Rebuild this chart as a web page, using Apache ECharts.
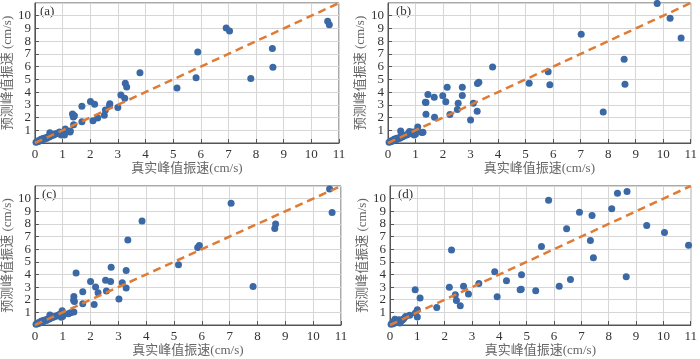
<!DOCTYPE html>
<html><head><meta charset="utf-8">
<script src="https://cdn.jsdelivr.net/npm/echarts@6/dist/echarts.min.js"></script>
<style>html,body{margin:0;padding:0;background:#fff}#c{width:700px;height:359px}</style>
</head><body><div id="c"></div>
<script>
const xName = '真实峰值振速(cm/s)';
const yName = '预测峰值振速 (cm/s)';
const panelLabels = ['(a)', '(b)', '(c)', '(d)'];
const ticks = [0,1,2,3,4,5,6,7,8,9,10,11];
const refLine = [[0,0],[11,11]];

const cluster = [[0.04,0.06],[0.08,0.1],[0.1,0.15],[0.13,0.12],[0.16,0.2],[0.2,0.22],[0.22,0.3],[0.25,0.26],[0.28,0.34],[0.3,0.28],[0.33,0.38],[0.36,0.33],[0.4,0.42],[0.43,0.38],[0.47,0.5],[0.52,0.47],[0.57,0.55],[0.62,0.6],[0.68,0.63],[0.72,0.7],[0.78,0.72],[0.85,0.8],[0.9,0.86],[0.95,0.62],[1.0,0.7]];

const dataA = cluster.concat([[0.54,0.8],[1.04,0.78],[1.1,1.1],[1.07,0.62],[1.27,0.86],[1.28,0.95],[1.4,1.44],[1.36,2.28],[1.39,2.05],[1.43,2.15],[1.7,2.88],[1.7,1.67],[2.01,3.27],[2.16,3.04],[2.1,1.75],[2.27,1.97],[2.51,2.18],[2.55,2.6],[2.71,3.08],[2.7,2.95],[3.0,2.78],[3.11,3.78],[3.25,3.52],[3.27,4.7],[3.32,4.4],[3.8,5.52],[5.14,4.32],[5.83,5.12],[5.89,7.15],[6.92,9.04],[7.04,8.8],[7.81,5.07],[8.59,7.43],[8.61,5.95],[10.59,9.57],[10.65,9.3]]);

const dataB = cluster.concat([[0.46,0.94],[0.78,0.9],[0.96,0.72],[1.02,0.9],[1.08,1.25],[1.23,0.83],[1.27,0.84],[1.36,3.2],[1.38,3.18],[1.38,2.25],[1.45,3.82],[1.68,3.6],[1.69,2.02],[1.99,3.72],[2.1,3.24],[2.15,4.38],[2.25,2.24],[2.52,2.64],[2.55,3.12],[2.7,4.38],[2.7,3.74],[3.0,1.8],[3.1,3.13],[3.24,2.5],[3.25,4.68],[3.3,4.78],[3.8,5.98],[5.13,4.69],[5.82,5.6],[5.88,4.57],[7.02,8.55],[7.82,2.43],[8.58,6.58],[8.61,4.62],[9.78,10.97],[10.25,9.8],[10.65,8.25]]);

const dataC = cluster.concat([[0.54,0.8],[0.98,1.12],[1.0,0.85],[1.2,0.9],[1.28,0.96],[1.4,1.02],[1.4,2.26],[1.39,1.95],[1.42,1.85],[1.48,4.12],[1.72,2.63],[1.72,1.68],[2.0,3.45],[2.18,3.0],[2.13,1.62],[2.27,2.55],[2.54,3.55],[2.57,2.7],[2.72,3.45],[2.74,4.58],[3.02,2.05],[3.14,3.35],[3.28,2.92],[3.28,4.32],[3.34,6.72],[3.85,8.24],[5.16,4.76],[5.85,6.13],[5.91,6.3],[7.05,9.63],[7.84,3.05],[8.62,7.63],[8.65,8.0],[10.59,10.76],[10.68,8.9]]);

const dataD = [[0.04,0.05],[0.08,0.15],[0.12,0.1],[0.15,0.3],[0.18,0.45],[0.22,0.2],[0.26,0.35],[0.3,0.25],[0.33,0.42],[0.36,0.15],[0.4,0.3],[0.45,0.4],[0.5,0.5],[0.57,0.68],[0.72,0.78],[0.93,0.95],[0.92,2.78],[1.0,1.21],[1.0,0.63],[1.1,2.14],[1.71,1.38],[2.17,2.98],[2.25,5.94],[2.39,2.39],[2.43,1.93],[2.57,1.52],[2.69,3.06],[2.87,2.46],[3.25,3.28],[3.83,4.21],[3.92,2.24],[4.26,3.5],[4.76,2.79],[4.8,2.82],[4.81,3.98],[5.33,2.72],[5.54,6.21],[5.8,9.88],[6.19,3.06],[6.46,7.62],[6.6,3.6],[6.93,8.93],[7.33,6.68],[7.39,8.67],[7.44,5.32],[8.11,9.2],[8.32,10.42],[8.64,3.82],[8.67,10.56],[9.39,7.87],[10.04,7.32],[10.92,6.32]];

const panels = [dataA, dataB, dataC, dataD];
const grids = [
  {left:32, right:361, top:3, height:140},
  {left:388, right:6, top:3, height:140},
  {left:34, right:359, top:186, height:139},
  {left:390, right:3, top:186, height:139}
];
const FONT = "'Liberation Serif','Times New Roman','Noto Sans CJK SC',serif";

const chart = echarts.init(document.getElementById('c'), null, {renderer:'canvas'});
const option = {
  animation:false,
  backgroundColor:'#fff',
  grid: grids.map(g => Object.assign({show:true, borderColor:'#555', borderWidth:1, containLabel:false}, g)),
  xAxis: grids.map((g,i) => ({
    type:'value', gridIndex:i, min:ticks[0], max:ticks[ticks.length-1], interval:1,
    name:xName, nameLocation:'middle', nameGap:19,
    nameTextStyle:{fontFamily:FONT, fontSize:13, color:'#666'},
    axisLine:{show:true, onZero:false, lineStyle:{color:'#555', width:1}},
    axisTick:{show:true, inside:true, length:4, lineStyle:{color:'#555'}},
    axisLabel:{fontFamily:FONT, fontSize:13, color:'#333', margin:5},
    splitLine:{show:true, lineStyle:{color:'#d6d6d6', width:1}}
  })),
  yAxis: grids.map((g,i) => ({
    type:'value', gridIndex:i, min:ticks[0], max:ticks[ticks.length-1], interval:1,
    name:yName, nameLocation:'middle', nameGap:20, nameRotate:90,
    nameTextStyle:{fontFamily:FONT, fontSize:13, color:'#666'},
    axisLine:{show:true, onZero:false, lineStyle:{color:'#555', width:1}},
    axisTick:{show:true, inside:true, length:4, lineStyle:{color:'#555'}},
    axisLabel:{fontFamily:FONT, fontSize:13, color:'#333', margin:4},
    splitLine:{show:true, lineStyle:{color:'#d6d6d6', width:1}}
  })),
  graphic: grids.map((g,i) => ({
    type:'text', left:(i%2===0? g.left:g.left)+8, top:g.top+2,
    style:{text:panelLabels[i], font:"13px "+FONT, fill:'#333'}
  })),
  series: []
};
panels.forEach((d,i) => {
  option.series.push({
    type:'scatter', xAxisIndex:i, yAxisIndex:i, data:d, symbolSize:7,
    itemStyle:{color:'#3a69a6', opacity:1}, z:3
  });
  option.series.push({
    type:'line', xAxisIndex:i, yAxisIndex:i, data:refLine, symbol:'none',
    lineStyle:{color:'#e07b36', width:2.5, type:[8,5]}, z:4, silent:true
  });
});
chart.setOption(option);
</script>
</body></html>
